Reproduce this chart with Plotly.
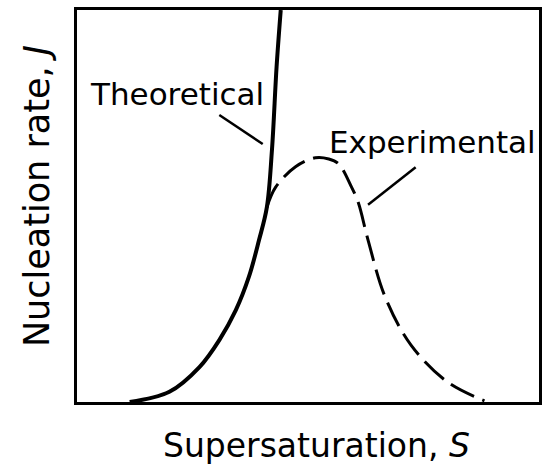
import plotly.graph_objects as go

# curve, arbitrary units (S and J both 0..10)
theo_s = [1.14, 2.00, 2.65, 3.08, 3.44, 3.72, 3.94, 4.11, 4.22, 4.32, 4.41]
theo_j = [0.00, 0.26, 0.89, 1.58, 2.35, 3.19, 4.13, 4.97, 6.43, 8.55, 10.0]

exp_s = [4.11, 4.30, 4.73, 5.16, 5.45, 5.66, 5.94, 6.09, 6.30, 6.67, 7.23, 8.02, 8.82]
exp_j = [4.97, 5.48, 6.00, 6.23, 6.20, 6.08, 5.49, 5.08, 4.13, 2.68, 1.45, 0.51, 0.03]

labels = ["Theoretical", "Experimental"]
label_s = [2.17, 7.70]
label_j = [7.86, 6.63]

# leader lines from the labels to the curves: (s0, j0, s1, j1)
leaders = [(3.08, 7.32, 4.02, 6.58),
           (7.33, 5.99, 6.30, 5.03)]

FONT = "DejaVu Sans"

fig = go.Figure()
fig.add_trace(go.Scatter(x=theo_s, y=theo_j, mode="lines", line_shape="spline",
                         line=dict(color="black", width=4)))
fig.add_trace(go.Scatter(x=exp_s, y=exp_j, mode="lines", line_shape="spline",
                         line=dict(color="black", width=3, dash="26px,9px")))

for t, x, y in zip(labels, label_s, label_j):
    fig.add_annotation(x=x, y=y, text=t, showarrow=False,
                       xanchor="center", yanchor="middle",
                       font=dict(family=FONT, size=31, color="black"))

for s0, j0, s1, j1 in leaders:
    fig.add_shape(type="line", x0=s0, y0=j0, x1=s1, y1=j1,
                  line=dict(color="black", width=2.5))

# axis titles
fig.add_annotation(xref="paper", yref="paper", x=-0.086, y=0.526,
                   xanchor="center", yanchor="middle",
                   text="Nucleation rate, <i>J</i>", textangle=-90, showarrow=False,
                   font=dict(family=FONT, size=35, color="black"))
fig.add_annotation(xref="paper", yref="paper", x=0.518, y=-0.11,
                   xanchor="center", yanchor="middle",
                   text="Supersaturation, <i>S</i>", showarrow=False,
                   font=dict(family=FONT, size=33, color="black"))

fig.update_xaxes(range=[0, 10], showgrid=False, zeroline=False, showticklabels=False,
                 ticks="", showline=True, mirror=True, linecolor="black", linewidth=3)
fig.update_yaxes(range=[0, 10], showgrid=False, zeroline=False, showticklabels=False,
                 ticks="", showline=True, mirror=True, linecolor="black", linewidth=3)

fig.update_layout(width=544, height=466, showlegend=False,
                  margin=dict(l=77, r=2, t=10, b=64),
                  paper_bgcolor="white", plot_bgcolor="white")

fig.write_html("out.html", config={"displayModeBar": False},
               post_script="document.body.style.margin='0';document.body.style.overflow='hidden';")
